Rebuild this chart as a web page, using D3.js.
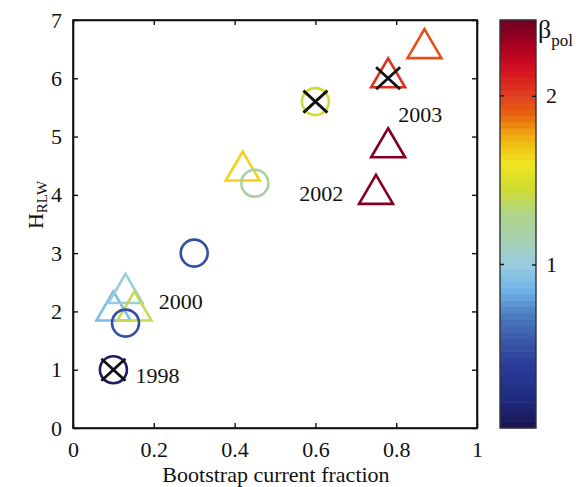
<!DOCTYPE html>
<html lang="en">
<head>
<meta charset="UTF-8">
<script src="https://d3js.org/d3.v7.min.js"></script>
<style>
  body { margin: 0; background: white; }
  svg text { font-family: "Liberation Serif", "DejaVu Serif", serif; fill: #111; }
</style>
</head>
<body>
<div id="chart"></div>
<script>
// data
const fraction = [0.10, 0.13, 0.30, 0.45, 0.60, 0.10, 0.13, 0.152, 0.42, 0.78, 0.87, 0.78, 0.75];
const hrlw     = [1.0, 1.8, 3.0, 4.2, 5.6, 2.0, 2.3, 2.0, 4.4, 6.0, 6.5, 4.8, 4.0];
const betaPol  = [0.10, 0.50, 0.50, 1.20, 1.45, 0.90, 1.00, 1.40, 1.65, 2.05, 1.95, 2.40, 2.40];
const shape    = ["o", "o", "o", "o", "o", "^", "^", "^", "^", "^", "^", "^", "^"];
const crossed  = [1, 0, 0, 0, 1, 0, 0, 0, 0, 1, 0, 0, 0];

const yearLabels = ["1998", "2000", "2002", "2003"];
const yearX = [0.155, 0.212, 0.56, 0.805];
const yearY = [0.78, 2.05, 3.9, 5.25];

const xTicks = [0, 0.2, 0.4, 0.6, 0.8, 1];
const yTicks = [0, 1, 2, 3, 4, 5, 6, 7];
const cbTicks = [1, 2];

// colormap stops (beta -> colour)
const cmapStops = [0.03, 0.2, 0.4, 0.55, 0.7, 0.85, 1.0, 1.15, 1.3, 1.45, 1.6, 1.75, 1.9, 2.0, 2.15, 2.3, 2.45];
const cmapColors = ["#1a1550", "#202a80", "#2a3c98", "#3a58a8", "#4c7cc0", "#70b4e8", "#98cce0", "#a8d0b0",
                    "#b0d488", "#d0dc30", "#f0e420", "#f0b010", "#e86010", "#e04020", "#d81020", "#a80020", "#700020"];

const W = 576, H = 487;
const svg = d3.select("#chart").append("svg").attr("width", W).attr("height", H);

const x = d3.scaleLinear().domain([0, 1]).range([73, 477]);
const y = d3.scaleLinear().domain([0, 7]).range([428, 20]);
const color = d3.scaleLinear().domain(cmapStops).range(cmapColors).clamp(true);

// axes box with inward ticks on all sides
svg.append("g").attr("transform", "translate(0,428)")
  .call(d3.axisBottom(x).tickValues(xTicks).tickSizeInner(-5).tickSizeOuter(0).tickPadding(13).tickFormat(d3.format("~g")))
  .call(g => g.selectAll("text").attr("font-size", 22).attr("fill", "#111"));
svg.append("g").attr("transform", "translate(0,20)")
  .call(d3.axisTop(x).tickValues(xTicks).tickSizeInner(-5).tickSizeOuter(0).tickFormat(""));
svg.append("g").attr("transform", "translate(73,0)")
  .call(d3.axisLeft(y).tickValues(yTicks).tickSizeInner(-5).tickSizeOuter(0).tickPadding(11).tickFormat(d3.format("d")))
  .call(g => g.selectAll("text").attr("font-size", 22).attr("fill", "#111"));
svg.append("g").attr("transform", "translate(477,0)")
  .call(d3.axisRight(y).tickValues(yTicks).tickSizeInner(-5).tickSizeOuter(0).tickFormat(""));
svg.selectAll(".domain").attr("stroke", "#111").attr("stroke-width", 1.6);
svg.selectAll(".tick line").attr("stroke", "#111").attr("stroke-width", 1.4);
svg.append("rect").attr("x", 73).attr("y", 20).attr("width", 404).attr("height", 408)
  .attr("fill", "none").attr("stroke", "#111").attr("stroke-width", 1.6);

// axis titles
svg.append("text").attr("x", 276).attr("y", 482).attr("text-anchor", "middle")
  .attr("font-size", 22).text("Bootstrap current fraction");
const yl = svg.append("text").attr("transform", "translate(43,205) rotate(-90)").attr("text-anchor", "middle")
  .attr("font-size", 22);
yl.append("tspan").text("H");
yl.append("tspan").attr("font-size", 15).attr("dy", 4).text("RLW");

// markers
const pts = fraction.map((f, i) => ({ f, h: hrlw[i], b: betaPol[i], s: shape[i], c: crossed[i] }));
const plot = svg.append("g");
const tri = "M0,-20L17,9L-17,9Z";
plot.selectAll(".tri").data(pts.filter(d => d.s === "^")).enter().append("path")
  .attr("class", "tri")
  .attr("transform", d => `translate(${x(d.f)},${y(d.h)})`)
  .attr("d", tri)
  .attr("fill", "none").attr("stroke", d => color(d.b)).attr("stroke-width", 2.6).attr("stroke-linejoin", "miter");
plot.selectAll(".circ").data(pts.filter(d => d.s === "o")).enter().append("circle")
  .attr("class", "circ")
  .attr("cx", d => x(d.f)).attr("cy", d => y(d.h)).attr("r", 13.5)
  .attr("fill", "none").attr("stroke", d => color(d.b)).attr("stroke-width", 2.6);
plot.selectAll(".cross").data(pts.filter(d => d.c)).enter().append("path")
  .attr("class", "cross")
  .attr("transform", d => `translate(${x(d.f)},${y(d.h)})`)
  .attr("d", "M-12,-11L12,11M-12,11L12,-11")
  .attr("stroke", "#111").attr("stroke-width", 2.8);

// year labels
svg.selectAll(".yr").data(yearLabels).enter().append("text")
  .attr("x", (d, i) => x(yearX[i])).attr("y", (d, i) => y(yearY[i]))
  .attr("font-size", 22).text(d => d);

// colorbar
const cb = d3.scaleLinear().domain([0.03, 2.45]).range([428, 20]);
const nBands = 64;
const bands = d3.range(nBands).map(i => 0.03 + (2.45 - 0.03) * i / nBands);
const step = (2.45 - 0.03) / nBands;
svg.append("g").selectAll("rect").data(bands).enter().append("rect")
  .attr("x", 500).attr("width", 36)
  .attr("y", d => cb(d + step) - 0.3).attr("height", d => cb(d) - cb(d + step) + 0.6)
  .attr("fill", d => color(d + step / 2));
svg.append("rect").attr("x", 500).attr("y", 20).attr("width", 36).attr("height", 408)
  .attr("fill", "none").attr("stroke", "#333").attr("stroke-width", 1.4);
svg.append("g").attr("transform", "translate(536,0)")
  .call(d3.axisRight(cb).tickValues(cbTicks).tickSizeInner(-4).tickSizeOuter(0).tickPadding(10).tickFormat(d3.format("d")))
  .call(g => g.select(".domain").remove())
  .call(g => g.selectAll("text").attr("font-size", 22).attr("fill", "#111"))
  .call(g => g.selectAll("line").attr("stroke", "#111").attr("stroke-width", 1.4));
svg.append("g").selectAll("line").data(cbTicks).enter().append("line")
  .attr("x1", 500).attr("x2", 504).attr("y1", d => cb(d)).attr("y2", d => cb(d))
  .attr("stroke", "#111").attr("stroke-width", 1.4);
const bl = svg.append("text").attr("x", 538).attr("y", 38).attr("font-size", 26);
bl.append("tspan").text("β");
bl.append("tspan").attr("font-size", 17).attr("dy", 8).text("pol");
</script>
</body>
</html>
